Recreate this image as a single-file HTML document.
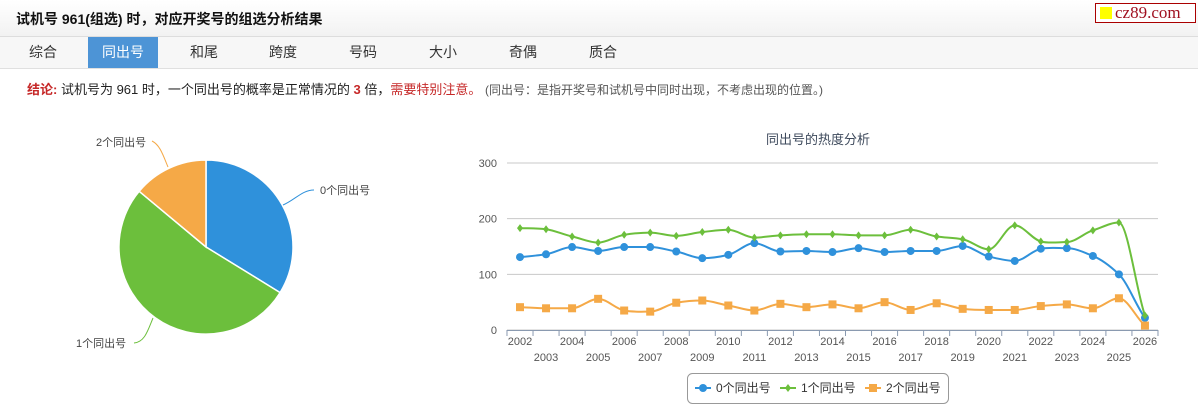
<!DOCTYPE html>
<html><head><meta charset="utf-8">
<style>
body{margin:0;width:1198px;height:419px;background:#fff;font-family:"Liberation Sans","Noto Sans CJK SC",sans-serif;position:relative;overflow:hidden}
.title{position:absolute;left:0;top:0;width:1198px;height:36px;background:linear-gradient(#fff,#f2f2f2);border-bottom:1px solid #ddd}
.title span{position:absolute;left:16px;top:9px;font-size:14px;font-weight:bold;color:#111}
.logo{position:absolute;left:1095px;top:3px;width:99px;height:18px;border:1px solid #a00;background:#fff;font-family:"Liberation Serif",serif;font-size:17px;color:#a01020;line-height:18px}
.logo i{display:inline-block;width:12px;height:12px;background:#ff0;margin:0 3px 0 4px;vertical-align:-1px}
.tabs{position:absolute;left:0;top:37px;width:1198px;height:31px;background:#f7f7f7;border-bottom:1px solid #e0e0e0}
.tab{position:absolute;top:0;height:31px;line-height:31px;font-size:14px;color:#333;text-align:center;width:70px}
.tab.on{background:#4d94d6;color:#fff}
.conc{position:absolute;left:27px;top:79px;font-size:13px;color:#222}
.red{color:#c62828}
.small{font-size:12px;color:#555}
</style></head><body>
<div class="title"><span>试机号 961(组选) 时，对应开奖号的组选分析结果</span></div>
<div class="logo"><i></i>cz89.com</div>
<div class="tabs">
<div class="tab" style="left:8px">综合</div>
<div class="tab on" style="left:88px">同出号</div>
<div class="tab" style="left:169px">和尾</div>
<div class="tab" style="left:248px">跨度</div>
<div class="tab" style="left:328px">号码</div>
<div class="tab" style="left:408px">大小</div>
<div class="tab" style="left:488px">奇偶</div>
<div class="tab" style="left:568px">质合</div>
</div>
<div class="conc"><b class="red">结论:</b> 试机号为 961 时，一个同出号的概率是正常情况的 <b class="red">3</b> 倍，<span class="red">需要特别注意。</span> <span class="small">(同出号：是指开奖号和试机号中同时出现，不考虑出现的位置。)</span></div>
<svg id="s" width="1198" height="419" style="position:absolute;left:0;top:0" font-family="Liberation Sans,Noto Sans CJK SC,sans-serif">
<path d="M206,247 L206,160 A87,87 0 0 1 280.1,292.6 Z" fill="#2f91db" stroke="#fff" stroke-width="1.5"/>
<path d="M206,247 L280.1,292.6 A87,87 0 1 1 139.2,191.3 Z" fill="#6cbf3c" stroke="#fff" stroke-width="1.5"/>
<path d="M206,247 L139.2,191.3 A87,87 0 0 1 206,160 Z" fill="#f5a947" stroke="#fff" stroke-width="1.5"/>
<path d="M283,205 C295,200 302,190 314,190" fill="none" stroke="#2f91db"/>
<path d="M168,167 C163,155 160,145 152,141" fill="none" stroke="#f5a947"/>
<path d="M153,318 C148,330 145,342 134,343" fill="none" stroke="#6cbf3c"/>
<text x="320" y="194" font-size="11" fill="#444">0个同出号</text>
<text x="96" y="146" font-size="11" fill="#444">2个同出号</text>
<text x="76" y="347" font-size="11" fill="#444">1个同出号</text>
<text x="818" y="144" font-size="13" fill="#3e4a5c" text-anchor="middle">同出号的热度分析</text>
<g id="g"></g>
<rect x="687.5" y="373.5" width="261" height="30" rx="5" fill="#fff" stroke="#999"/>
<line x1="695" y1="388" x2="711" y2="388" stroke="#2f91db" stroke-width="2"/><circle cx="703" cy="388" r="4" fill="#2f91db"/>
<text x="716" y="392" font-size="12" fill="#333">0个同出号</text>
<line x1="780" y1="388" x2="796" y2="388" stroke="#6cbf3c" stroke-width="2"/><path d="M788,384 L791,388 788,392 785,388Z" fill="#6cbf3c"/>
<text x="801" y="392" font-size="12" fill="#333">1个同出号</text>
<line x1="865" y1="388" x2="881" y2="388" stroke="#f5a947" stroke-width="2"/><rect x="869" y="384" width="8" height="8" fill="#f5a947"/>
<text x="886" y="392" font-size="12" fill="#333">2个同出号</text>
</svg>
<script>
var g=document.getElementById('g'),h='';
var X0=520,DX=26.04,Y0=330,K=0.5567;
[0,100,200,300].forEach(function(v){var y=Y0-v*K;h+='<line x1="507" x2="1158" y1="'+y+'" y2="'+y+'" stroke="#c8c8c8"/>';h+='<text x="497" y="'+(y+4)+'" font-size="11" fill="#555" text-anchor="end">'+v+'</text>';});
h+='<line x1="507" x2="1158" y1="330.5" y2="330.5" stroke="#8a9ab0"/>';
for(var i=0;i<=25;i++){var x=X0-DX/2+i*DX;h+='<line x1="'+x+'" x2="'+x+'" y1="330" y2="336" stroke="#8a9ab0"/>';}
for(var i=0;i<25;i++){var x=X0+i*DX;h+='<text x="'+x+'" y="'+(i%2?361:345)+'" font-size="11" fill="#555" text-anchor="middle">'+(2002+i)+'</text>';}
var S=[[ '#2f91db','c',[131,136,149,142,149,149,141,129,135,156,141,142,140,147,140,142,142,151,132,124,146,147,133,100,22]],
['#6cbf3c','d',[183,181,168,157,171,175,169,176,180,166,170,172,172,170,170,180,168,163,145,188,159,158,179,193,26]],
['#f5a947','s',[41,39,39,56,35,33,49,53,44,35,47,41,46,39,50,36,48,38,36,36,43,46,39,57,8]]];
S.forEach(function(s){var v=s[2],p=v.map(function(v,i){return [X0+i*DX,Y0-v*K]});
var n=p.length,m=[];
for(var i=0;i<n;i++){var a=p[Math.max(i-1,0)],c=p[Math.min(i+1,n-1)];var sl=(c[1]-a[1])/(c[0]-a[0]);
if(i>0&&i<n-1){var d1=p[i][1]-p[i-1][1],d2=p[i+1][1]-p[i][1];if(d1*d2<=0)sl=0;}m.push(sl);}
var d='M'+p[0][0]+','+p[0][1],t=DX/3;
for(var i=0;i<n-1;i++){var b=p[i],c=p[i+1];
d+=' C'+(b[0]+t)+','+(b[1]+m[i]*t*0.8)+' '+(c[0]-t)+','+(c[1]-m[i+1]*t*0.8)+' '+c[0]+','+c[1];}
h+='<path d="'+d+'" fill="none" stroke="'+s[0]+'" stroke-width="2"/>';
p.forEach(function(q){if(s[1]=='c')h+='<circle cx="'+q[0]+'" cy="'+q[1]+'" r="4" fill="'+s[0]+'"/>';
else if(s[1]=='d')h+='<path d="M'+q[0]+','+(q[1]-4)+' L'+(q[0]+3)+','+q[1]+' '+q[0]+','+(q[1]+4)+' '+(q[0]-3)+','+q[1]+'Z" fill="'+s[0]+'"/>';
else h+='<rect x="'+(q[0]-4)+'" y="'+(q[1]-4)+'" width="8" height="8" fill="'+s[0]+'"/>';});});
g.innerHTML=h;
</script>
</body></html>
